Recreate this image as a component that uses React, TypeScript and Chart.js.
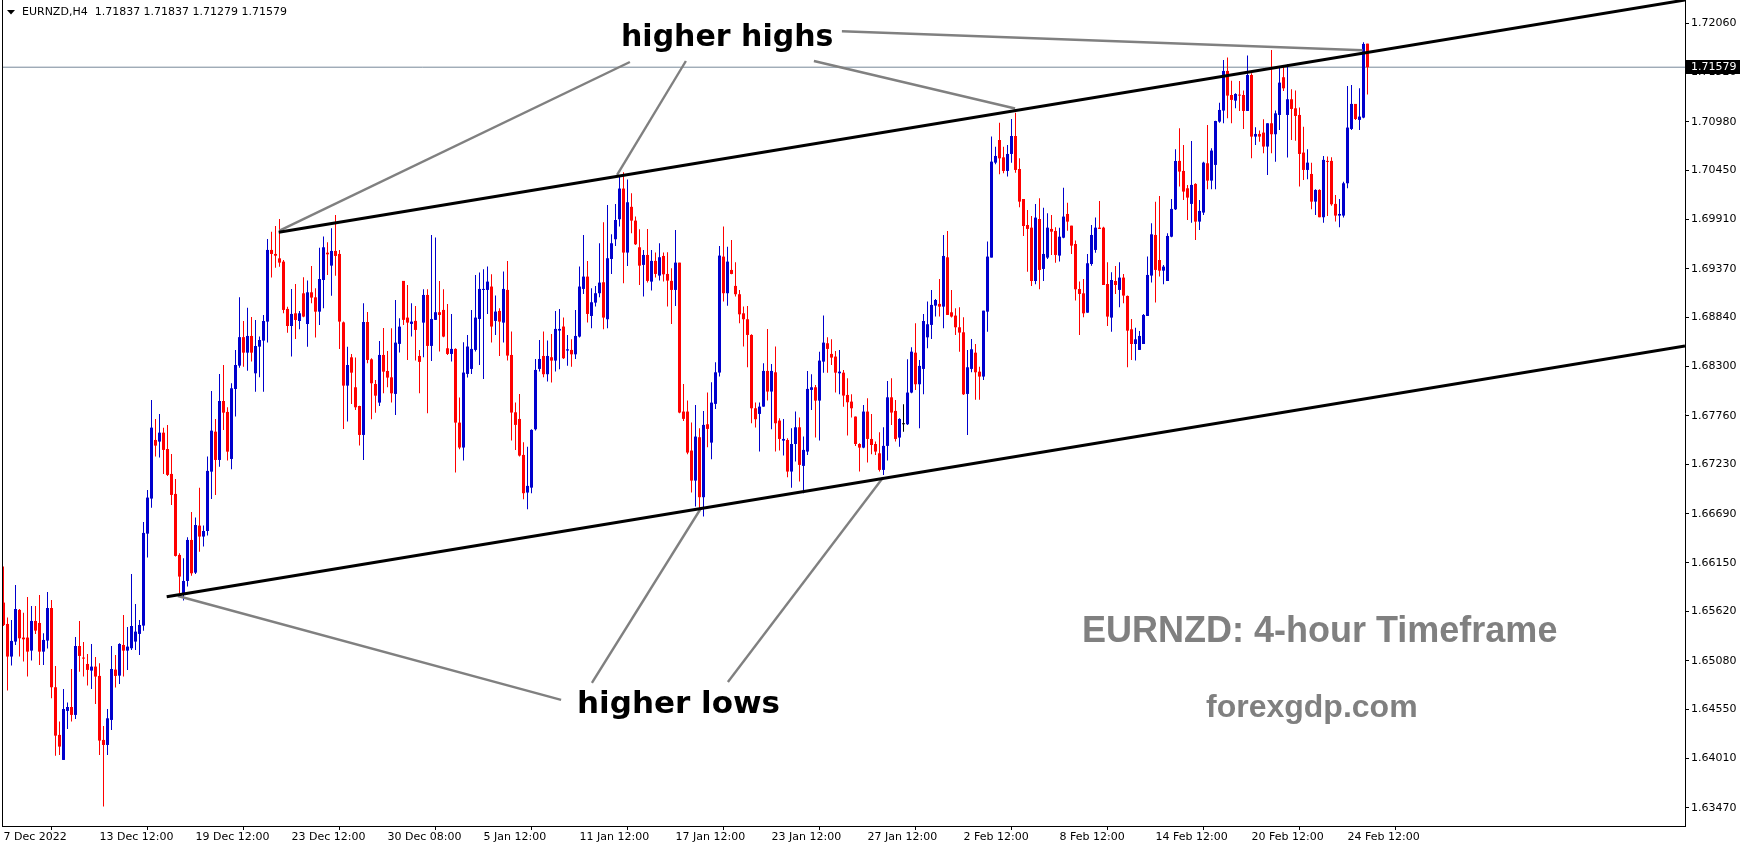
import React, { useEffect, useRef } from 'react';
import { Chart, registerables } from 'chart.js';

Chart.register(...registerables);

const symbol = 'EURNZD';
const timeframe = 'H4';

const opens = [
  1.65716,1.65482,1.65125,1.65289,1.65636,1.65333,1.65333,1.65190,1.65515,1.65493,
  1.65179,1.65300,1.65657,1.64789,1.64267,1.63993,1.64530,1.64573,1.64486,1.65241,
  1.65114,1.65044,1.64971,1.65015,1.64913,1.64212,1.64157,1.64431,1.64982,1.64916,
  1.65252,1.65190,1.65216,1.65289,1.65373,1.65464,1.66471,1.66855,1.67497,1.67479,
  1.67577,1.67398,1.67125,1.66906,1.66238,1.65800,1.65953,1.66402,1.66044,1.66559,
  1.66439,1.66500,1.67150,1.67588,1.67278,1.67924,1.67804,1.67289,1.68055,1.68311,
  1.68623,1.68453,1.68636,1.68227,1.68519,1.68585,1.68793,1.69578,1.69534,1.69486,
  1.69450,1.68932,1.68745,1.68884,1.68800,1.69103,1.68767,1.69114,1.69059,1.68902,
  1.69249,1.69548,1.69406,1.69567,1.69534,1.68785,1.68092,1.68402,1.68074,1.67869,
  1.67552,1.68789,1.68380,1.68110,1.67906,1.68428,1.68252,1.68183,1.68001,1.68549,
  1.69239,1.68837,1.68768,1.68801,1.68417,1.68782,1.69085,1.68527,1.68812,1.68896,
  1.68921,1.68501,1.68439,1.68494,1.67687,1.67414,1.68220,1.68275,1.68483,1.68822,
  1.69140,1.69140,1.69177,1.68801,1.68910,1.68782,1.69140,1.68428,1.67800,1.67727,
  1.67333,1.66921,1.66975,1.67614,1.68275,1.68417,1.68217,1.68403,1.68366,1.68695,
  1.68739,1.68476,1.68483,1.68435,1.68629,1.69151,1.69286,1.68855,1.69001,1.69104,
  1.69224,1.68819,1.69479,1.69695,1.69914,1.70250,1.69549,1.70050,1.69899,1.69607,
  1.69414,1.69523,1.69231,1.69458,1.69297,1.69512,1.69315,1.69239,1.69140,1.69439,
  1.67808,1.67808,1.67381,1.67052,1.67527,1.66870,1.67669,1.67468,1.67892,1.68235,
  1.69505,1.69104,1.69359,1.69184,1.69093,1.68884,1.68819,1.68647,1.67844,1.67782,
  1.67862,1.68253,1.68027,1.68238,1.67709,1.67490,1.67497,1.67151,1.67453,1.67636,
  1.67213,1.67370,1.68045,1.68074,1.67928,1.68355,1.68556,1.68439,1.68410,1.68227,
  1.68234,1.67990,1.67917,1.67753,1.67453,1.67413,1.67808,1.67508,1.67453,1.67351,
  1.67169,1.67432,1.67964,1.67815,1.67523,1.67669,1.67669,1.68016,1.68453,1.68107,
  1.68275,1.68621,1.68757,1.68968,1.68987,1.68957,1.69497,1.68895,1.68859,1.68731,
  1.68676,1.68001,1.68275,1.68453,1.68245,1.68191,1.68902,1.69494,1.70534,1.70782,
  1.70592,1.70443,1.70629,1.70826,1.70464,1.70136,1.69851,1.69822,1.69238,1.69917,
  1.69370,1.69494,1.69808,1.69786,1.69516,1.69712,1.69972,1.69844,1.69643,1.69150,
  1.69103,1.68891,1.69424,1.69578,1.69822,1.69822,1.69205,1.68837,1.69238,1.69140,
  1.69275,1.69074,1.68709,1.68548,1.68483,1.68548,1.68855,1.69297,1.69742,1.69468,
  1.69351,1.69238,1.69723,1.70023,1.70553,1.70443,1.70253,1.70082,1.70301,1.69888,
  1.69987,1.70527,1.70337,1.70509,1.70983,1.71104,1.71538,1.71275,1.71213,1.71275,
  1.71275,1.71100,1.71494,1.70819,1.70848,1.70863,1.70710,1.70965,1.70845,1.71056,
  1.71469,1.71056,1.71228,1.71129,1.71056,1.70644,1.70454,1.70410,1.70107,1.70235,
  1.69936,1.70553,1.70553,1.70082,1.69954,1.69954,1.70308,1.70903,1.71177,1.71002,
  1.71027,1.71837,
];

const highs = [
  1.66110,1.65552,1.65526,1.65909,1.65646,1.65606,1.65778,1.65679,1.65679,1.65800,
  1.65380,1.65833,1.65745,1.65022,1.64413,1.64770,1.64621,1.64989,1.65340,1.65515,
  1.65285,1.65154,1.65263,1.65121,1.65052,1.64365,1.64551,1.65241,1.65143,1.65271,
  1.65581,1.65449,1.66030,1.65701,1.65526,1.66599,1.66950,1.67935,1.67727,1.67782,
  1.67632,1.67661,1.67344,1.67070,1.66256,1.66201,1.66431,1.66709,1.66647,1.66975,
  1.66560,1.67315,1.68034,1.67727,1.68220,1.68318,1.67855,1.68118,1.68483,1.69059,
  1.68800,1.68946,1.68844,1.68811,1.68629,1.68866,1.69698,1.69778,1.69840,1.69917,
  1.69468,1.68957,1.69150,1.69205,1.68910,1.69278,1.69242,1.69402,1.69158,1.69603,
  1.69724,1.69661,1.69815,1.69961,1.69578,1.68793,1.68519,1.68439,1.68399,1.67873,
  1.68994,1.68899,1.68391,1.68154,1.68581,1.68723,1.68472,1.68720,1.69030,1.68830,
  1.69239,1.69195,1.68994,1.68965,1.68483,1.69147,1.69147,1.69742,1.69713,1.69239,
  1.69147,1.68987,1.68877,1.68501,1.67961,1.68567,1.68647,1.68921,1.69304,1.69330,
  1.69366,1.69396,1.69312,1.69078,1.68940,1.69341,1.69458,1.68684,1.67906,1.68000,
  1.67472,1.67424,1.67614,1.68384,1.68592,1.68684,1.68585,1.68658,1.68910,1.68932,
  1.68837,1.68647,1.68600,1.68921,1.69396,1.69742,1.69458,1.69158,1.69184,1.69651,
  1.69881,1.70070,1.69750,1.70080,1.70388,1.70430,1.70350,1.70200,1.69943,1.69804,
  1.69578,1.69808,1.69578,1.69549,1.69651,1.69549,1.69552,1.69377,1.69797,1.69439,
  1.68111,1.67928,1.67687,1.67881,1.67625,1.67815,1.68016,1.68129,1.68348,1.69622,
  1.69834,1.69614,1.69687,1.69443,1.69140,1.68958,1.68965,1.68655,1.67906,1.67906,
  1.68337,1.68713,1.68330,1.68520,1.67735,1.67727,1.67516,1.67625,1.67808,1.67742,
  1.67534,1.68253,1.68216,1.68099,1.68464,1.68859,1.68621,1.68600,1.68472,1.68483,
  1.68264,1.68173,1.67997,1.67753,1.67461,1.67881,1.67954,1.67782,1.67479,1.67581,
  1.67636,1.68143,1.68173,1.67935,1.67734,1.67888,1.68381,1.68512,1.68775,1.68373,
  1.68877,1.69012,1.69140,1.69041,1.69260,1.69742,1.69786,1.69140,1.68939,1.68950,
  1.68841,1.68483,1.68603,1.68548,1.68300,1.68913,1.69669,1.70819,1.70709,1.70972,
  1.70709,1.70727,1.71012,1.71081,1.70581,1.70136,1.70016,1.69950,1.70081,1.70143,
  1.70041,1.69979,1.69961,1.69826,1.69822,1.70260,1.70096,1.69844,1.69680,1.69231,
  1.69260,1.69534,1.69851,1.69932,1.70114,1.69833,1.69442,1.69333,1.69402,1.69442,
  1.69315,1.69078,1.68822,1.68727,1.68691,1.68877,1.69505,1.69870,1.70107,1.70169,
  1.69413,1.69760,1.70136,1.70680,1.70910,1.70728,1.70290,1.70772,1.70308,1.70126,
  1.70545,1.70947,1.70691,1.70994,1.71191,1.71659,1.71684,1.71432,1.71294,1.71429,
  1.71323,1.71706,1.71512,1.70921,1.70885,1.71009,1.70965,1.71768,1.71104,1.71578,
  1.71586,1.71611,1.71337,1.71323,1.71137,1.70928,1.70680,1.70534,1.70242,1.70242,
  1.70607,1.70600,1.70593,1.70180,1.70137,1.70326,1.71374,1.71385,1.71177,1.71348,
  1.71852,1.71837,
];

const lows = [
  1.65460,1.64752,1.65026,1.65252,1.65125,1.65070,1.64906,1.65081,1.65373,1.65033,
  1.65033,1.65212,1.64668,1.64040,1.64048,1.63993,1.64332,1.64413,1.64442,1.64960,
  1.64906,1.64807,1.64770,1.64606,1.64048,1.63482,1.64048,1.64322,1.64785,1.64825,
  1.64906,1.64979,1.65198,1.65198,1.65143,1.65409,1.66209,1.66756,1.67315,1.67304,
  1.67125,1.67103,1.66785,1.66220,1.65818,1.65738,1.65891,1.66011,1.66030,1.66274,
  1.66330,1.66450,1.66850,1.66895,1.67205,1.67607,1.67271,1.67176,1.67753,1.68289,
  1.68300,1.68256,1.68355,1.68026,1.68183,1.68026,1.68563,1.69275,1.69384,1.69395,
  1.68884,1.68672,1.68410,1.68603,1.68709,1.68840,1.68519,1.68994,1.68618,1.68756,
  1.68939,1.69304,1.69077,1.69296,1.68493,1.67617,1.67698,1.67891,1.67826,1.67435,
  1.67278,1.68337,1.67723,1.67796,1.67869,1.68008,1.68074,1.67906,1.67771,1.68454,
  1.68757,1.68374,1.68629,1.68366,1.68008,1.68403,1.67790,1.68363,1.68812,1.68465,
  1.68622,1.68428,1.68355,1.67140,1.67395,1.67271,1.68180,1.68220,1.68465,1.68319,
  1.68165,1.68877,1.68563,1.68647,1.68417,1.68563,1.68366,1.67490,1.67388,1.67315,
  1.66848,1.66738,1.66914,1.67600,1.68246,1.68184,1.68136,1.68125,1.68246,1.68271,
  1.68384,1.68311,1.68300,1.68384,1.68618,1.69096,1.68782,1.68720,1.68958,1.69060,
  1.68709,1.68720,1.69315,1.69620,1.69834,1.69213,1.69403,1.69761,1.69633,1.69195,
  1.69067,1.69220,1.69133,1.69275,1.69242,1.69231,1.68958,1.68768,1.68965,1.67790,
  1.67706,1.67341,1.66921,1.66768,1.66749,1.66658,1.67417,1.67286,1.67837,1.68191,
  1.69012,1.68968,1.69311,1.69067,1.68775,1.68520,1.68293,1.67680,1.67633,1.67370,
  1.67862,1.67928,1.67614,1.67370,1.67381,1.67326,1.67088,1.66975,1.67260,1.67041,
  1.66913,1.67333,1.67826,1.67523,1.67490,1.68234,1.68234,1.68319,1.68016,1.67997,
  1.67862,1.67545,1.67742,1.67432,1.67151,1.67406,1.67249,1.67340,1.67333,1.67151,
  1.67114,1.67271,1.67662,1.67479,1.67424,1.67588,1.67662,1.68008,1.68045,1.67625,
  1.67997,1.68501,1.68603,1.68848,1.68848,1.68720,1.68866,1.68837,1.68647,1.68464,
  1.67990,1.67552,1.68238,1.67936,1.67936,1.68154,1.68683,1.69494,1.70516,1.70406,
  1.70417,1.70381,1.70534,1.70424,1.70045,1.69731,1.69340,1.69183,1.69202,1.69147,
  1.69238,1.69479,1.69523,1.69439,1.69450,1.69705,1.69789,1.69534,1.69023,1.68647,
  1.68840,1.68891,1.69406,1.69548,1.69808,1.69194,1.68745,1.68683,1.69096,1.68950,
  1.68994,1.68293,1.68373,1.68366,1.68483,1.68548,1.68855,1.69220,1.69001,1.69286,
  1.69202,1.69238,1.69716,1.70016,1.70272,1.70126,1.69907,1.69877,1.69687,1.69797,
  1.69961,1.70242,1.70242,1.70242,1.70972,1.70965,1.71020,1.70965,1.71129,1.71100,
  1.70903,1.71100,1.70582,1.70728,1.70764,1.70637,1.70399,1.70637,1.70545,1.70892,
  1.71319,1.70589,1.70782,1.70775,1.70272,1.70345,1.70352,1.70023,1.69961,1.69936,
  1.69877,1.69950,1.70063,1.69888,1.69826,1.69932,1.70253,1.70892,1.71002,1.70892,
  1.71020,1.71279,
];

const closes = [
  1.65471,1.65125,1.65296,1.65646,1.65325,1.65314,1.65179,1.65515,1.65409,1.65179,
  1.65307,1.65657,1.64789,1.64259,1.64139,1.64551,1.64573,1.64486,1.65241,1.65132,
  1.65103,1.64979,1.65015,1.64906,1.64205,1.64157,1.64449,1.64989,1.64913,1.65263,
  1.65190,1.65234,1.65460,1.65398,1.65471,1.66479,1.66866,1.67632,1.67435,1.67577,
  1.67388,1.67114,1.66895,1.66227,1.66001,1.65953,1.66402,1.66037,1.66566,1.66439,
  1.66500,1.67158,1.67599,1.67278,1.67924,1.67796,1.67369,1.68063,1.68318,1.68623,
  1.68453,1.68636,1.68453,1.68526,1.68592,1.68800,1.69578,1.69534,1.69515,1.69439,
  1.68921,1.68745,1.68877,1.68811,1.68884,1.68848,1.69114,1.69056,1.68902,1.69260,
  1.69607,1.69530,1.69567,1.69512,1.68793,1.68092,1.68318,1.68234,1.67855,1.67552,
  1.68789,1.68373,1.68118,1.67982,1.68428,1.68245,1.68180,1.68008,1.68563,1.68738,
  1.68812,1.68782,1.68793,1.68702,1.68352,1.69085,1.68527,1.68822,1.68896,1.68866,
  1.68629,1.68439,1.68494,1.67687,1.67414,1.68235,1.68520,1.68494,1.68837,1.69151,
  1.69151,1.69231,1.68739,1.68903,1.68793,1.69151,1.68421,1.67797,1.67662,1.67326,
  1.66914,1.66994,1.67607,1.68264,1.68384,1.68217,1.68417,1.68366,1.68713,1.68713,
  1.68392,1.68490,1.68435,1.68636,1.69177,1.69286,1.68877,1.69005,1.69104,1.69220,
  1.68837,1.69487,1.69651,1.69906,1.70250,1.69549,1.70100,1.69899,1.69640,1.69406,
  1.69523,1.69239,1.69458,1.69315,1.69498,1.69311,1.69242,1.69140,1.69439,1.67797,
  1.67728,1.67359,1.67052,1.67534,1.66870,1.67662,1.67618,1.67906,1.68238,1.69516,
  1.69104,1.69450,1.69315,1.69093,1.68873,1.68819,1.68647,1.67844,1.67724,1.67862,
  1.68253,1.68027,1.68253,1.67680,1.67508,1.67508,1.67151,1.67453,1.67636,1.67224,
  1.67388,1.68056,1.68074,1.67928,1.68366,1.68563,1.68494,1.68399,1.68234,1.68245,
  1.67983,1.67910,1.67844,1.67453,1.67413,1.67808,1.67508,1.67442,1.67370,1.67169,
  1.67432,1.67964,1.67797,1.67508,1.67727,1.67669,1.68016,1.68464,1.68107,1.68308,
  1.68800,1.68764,1.68976,1.69030,1.68957,1.69512,1.68866,1.68848,1.68731,1.68673,
  1.67997,1.68293,1.68490,1.68238,1.68191,1.68913,1.69505,1.70545,1.70607,1.70581,
  1.70443,1.70629,1.70826,1.70454,1.70107,1.69840,1.69808,1.69238,1.69932,1.69359,
  1.69534,1.69822,1.69778,1.69523,1.69723,1.69943,1.69888,1.69625,1.69147,1.69096,
  1.68884,1.69432,1.69742,1.69822,1.69808,1.69194,1.68848,1.69249,1.69194,1.69275,
  1.69078,1.68694,1.68548,1.68599,1.68636,1.68866,1.69304,1.69749,1.69359,1.69351,
  1.69395,1.69731,1.70027,1.70552,1.70436,1.70217,1.70151,1.70290,1.69888,1.70005,
  1.70534,1.70337,1.70666,1.70990,1.71111,1.71538,1.71268,1.71221,1.71286,1.71268,
  1.71100,1.71494,1.70819,1.70848,1.70819,1.70710,1.70965,1.70845,1.71074,1.71410,
  1.71348,1.71228,1.71122,1.71045,1.70629,1.70454,1.70534,1.70107,1.70235,1.69936,
  1.70564,1.70542,1.70078,1.69954,1.69972,1.70308,1.70918,1.71177,1.71012,1.71038,
  1.71834,1.71579,
];

const xTickBars = [0, 24, 48, 72, 96, 120, 144, 168, 192, 216, 240, 264, 288, 312, 336];
const xTickLabels = [
  '7 Dec 2022', '13 Dec 12:00', '19 Dec 12:00', '23 Dec 12:00', '30 Dec 08:00',
  '5 Jan 12:00', '11 Jan 12:00', '17 Jan 12:00', '23 Jan 12:00', '27 Jan 12:00',
  '2 Feb 12:00', '8 Feb 12:00', '14 Feb 12:00', '20 Feb 12:00', '24 Feb 12:00',
];
const yTickLabels = [
  '1.72060', '1.71520', '1.70980', '1.70450', '1.69910', '1.69370', '1.68840', '1.68300',
  '1.67760', '1.67230', '1.66690', '1.66150', '1.65620', '1.65080', '1.64550', '1.64010', '1.63470',
];

// trend channel anchors: [bar index, price]
const channelUpper = [[68.8, 1.69771], [420.375, 1.72315]];
const channelLower = [[40.8, 1.65781], [420.375, 1.68526]];
// pointer lines from the labels to the swing points: [bar index, price]
const pointerLines = [
  [[156.6, 1.71636], [69.0, 1.69789]],
  [[170.6, 1.71647], [153.4, 1.70399]],
  [[202.6, 1.71647], [252.9, 1.71127]],
  [[209.6, 1.71973], [339.8, 1.71765]],
  [[43.6, 1.65788], [139.4, 1.64650]],
  [[174.4, 1.66752], [147.1, 1.64836]],
  [[219.9, 1.67086], [181.1, 1.64847]],
];
const noteTexts = ['higher highs', 'higher lows', 'EURNZD: 4-hour Timeframe', 'forexgdp.com'];
const noteBars = [154.375, 143.375, 269.625, 300.625];
const notePrices = [1.71811, 1.64507, 1.65285, 1.64463];

const NOTE_FONTS = [
  'bold 30px "DejaVu Sans"',
  'bold 31px "DejaVu Sans"',
  'bold 36px "Liberation Sans"',
  'bold 32px "Liberation Sans"',
];
const NOTE_COLORS = ['#000000', '#000000', '#808080', '#808080'];

const BULL = '#0000CD';
const BEAR = '#FF0000';
const DOJI = '#000000';
const X_MIN = -0.375;
const X_MAX = 420.375;
const Y_MAX = 1.72315;
const Y_MIN = 1.632695;
const TICK_FONT = { family: 'DejaVu Sans', size: 11 };

function candleColor(i: number) {
  if (closes[i] > opens[i]) return BULL;
  if (closes[i] < opens[i]) return BEAR;
  return DOJI;
}

const overlayPlugin = {
  id: 'mtOverlay',
  afterDatasetsDraw(chart: any) {
    const { ctx, chartArea } = chart;
    const xs = chart.scales.x;
    const ys = chart.scales.y;
    ctx.save();
    ctx.strokeStyle = '#000';
    ctx.lineWidth = 1;
    ctx.beginPath();
    ctx.moveTo(chartArea.left + 0.5, chartArea.top);
    ctx.lineTo(chartArea.left + 0.5, chartArea.bottom);
    ctx.stroke();
    ctx.textAlign = 'left';
    ctx.textBaseline = 'alphabetic';
    noteTexts.forEach((t, i) => {
      ctx.font = NOTE_FONTS[i];
      ctx.fillStyle = NOTE_COLORS[i];
      ctx.fillText(t, xs.getPixelForValue(noteBars[i]), ys.getPixelForValue(notePrices[i]));
    });
    ctx.restore();
  },
  afterDraw(chart: any) {
    const { ctx, chartArea } = chart;
    const ys = chart.scales.y;
    const last = closes.length - 1;
    ctx.save();
    // header
    ctx.fillStyle = '#000';
    ctx.beginPath();
    ctx.moveTo(7, 10);
    ctx.lineTo(15, 10);
    ctx.lineTo(11, 14.5);
    ctx.closePath();
    ctx.fill();
    ctx.font = '11px "DejaVu Sans"';
    ctx.textBaseline = 'middle';
    ctx.textAlign = 'left';
    const header = `${symbol},${timeframe}  ${opens[last].toFixed(5)} ${highs[last].toFixed(5)} ${lows[last].toFixed(5)} ${closes[last].toFixed(5)}`;
    ctx.fillText(header, 22, 12.5);
    // current price box
    const py = Math.round(ys.getPixelForValue(closes[last]));
    ctx.fillStyle = '#000';
    ctx.fillRect(chartArea.right + 1, py - 7, 54, 14);
    ctx.fillStyle = '#fff';
    ctx.fillText(closes[last].toFixed(5), chartArea.right + 6, py + 0.5);
    ctx.restore();
  },
};

export default function App() {
  const ref = useRef<HTMLCanvasElement>(null);

  useEffect(() => {
    document.body.style.margin = '0';
    const canvas = ref.current;
    if (!canvas) return;
    const idx = opens.map((_, i) => i);
    const colors = idx.map(candleColor);
    const wickData = idx.map((i) => ({ x: i, y: [lows[i], highs[i]] }));
    const bodyData = idx.map((i) => ({
      x: i,
      y: [Math.min(opens[i], closes[i]), Math.max(opens[i], closes[i])],
    }));
    const last = closes.length - 1;
    const lineDs = (pts: number[][], color: string, width: number, order: number) => ({
      type: 'line',
      data: pts.map(([x, y]) => ({ x, y })),
      borderColor: color,
      borderWidth: width,
      pointRadius: 0,
      pointHoverRadius: 0,
      fill: false,
      tension: 0,
      order,
    });

    const datasets: any[] = [
      lineDs(channelUpper, '#000000', 3, 0),
      lineDs(channelLower, '#000000', 3, 0),
      ...pointerLines.map((p) => lineDs(p, '#808080', 2.4, 0)),
      {
        type: 'bar',
        data: bodyData,
        backgroundColor: colors,
        barThickness: 3,
        minBarLength: 1,
        grouped: false,
        inflateAmount: 0,
        borderWidth: 0,
        order: 1,
      },
      {
        type: 'bar',
        data: wickData,
        backgroundColor: colors,
        barThickness: 1,
        grouped: false,
        inflateAmount: 0,
        borderWidth: 0,
        order: 2,
      },
      lineDs([[-2, closes[last]], [422, closes[last]]], '#778899', 1, 3),
    ];

    const chart = new Chart(canvas, {
      type: 'bar',
      data: { datasets },
      options: {
        responsive: false,
        animation: false,
        devicePixelRatio: 1,
        events: [],
        layout: { padding: { left: 2, top: 0, right: 0, bottom: 0 } },
        plugins: { legend: { display: false }, tooltip: { enabled: false } },
        scales: {
          x: {
            type: 'linear',
            min: X_MIN,
            max: X_MAX,
            offset: false,
            afterBuildTicks: (s: any) => {
              s.ticks = xTickBars.map((v) => ({ value: v }));
            },
            afterFit: (s: any) => {
              s.height = 24;
              s.paddingLeft = 0;
              s.paddingRight = 0;
            },
            ticks: {
              autoSkip: false,
              maxRotation: 0,
              minRotation: 0,
              align: 'start',
              padding: 1,
              color: '#000',
              font: TICK_FONT,
              callback: (_v: any, i: number) => xTickLabels[i],
            },
            grid: { drawOnChartArea: false, drawTicks: true, tickLength: 4, color: '#000' },
            border: { display: true, color: '#000' },
          },
          y: {
            type: 'linear',
            position: 'right',
            min: Y_MIN,
            max: Y_MAX,
            afterBuildTicks: (s: any) => {
              s.ticks = yTickLabels.map((l) => ({ value: parseFloat(l) }));
            },
            afterFit: (s: any) => {
              s.width = 64;
              s.paddingTop = 0;
              s.paddingBottom = 0;
            },
            ticks: {
              padding: 2,
              color: '#000',
              font: TICK_FONT,
              callback: (v: any) => Number(v).toFixed(5),
            },
            grid: { drawOnChartArea: false, drawTicks: true, tickLength: 4, color: '#000' },
            border: { display: true, color: '#000' },
          },
        },
      } as any,
      plugins: [overlayPlugin],
    } as any);

    return () => chart.destroy();
  }, []);

  return (
    <div style={{ position: 'absolute', left: 0, top: 0, width: 1749, height: 850, background: '#fff' }}>
      <canvas ref={ref} width={1749} height={850} style={{ display: 'block' }} />
    </div>
  );
}
